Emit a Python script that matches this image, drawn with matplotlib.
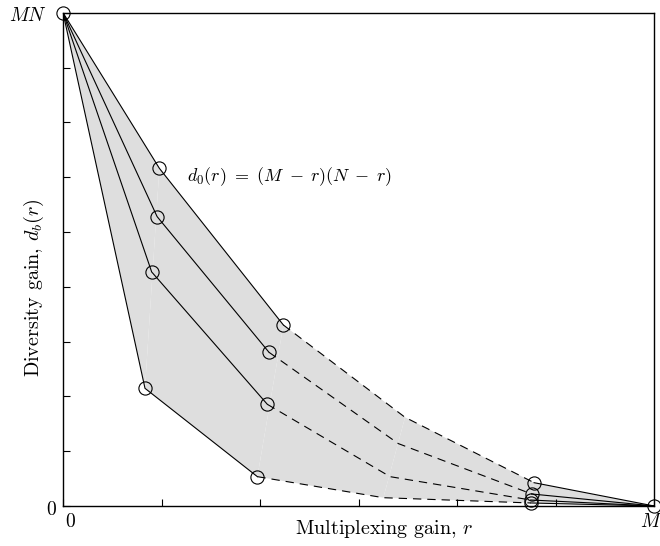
import numpy as np
import matplotlib
matplotlib.use("Agg")
import matplotlib.pyplot as plt
import matplotlib.transforms as mtransforms

plt.rcParams["font.family"] = ["cmr10"]
plt.rcParams["mathtext.fontset"] = "cm"
plt.rcParams["axes.unicode_minus"] = False
plt.rcParams["lines.scale_dashes"] = False

# breakpoints of the four diversity-multiplexing curves (x in units of M/6, y in units of MN/9)
curve_x = [
    [0.0, 0.978, 2.237, 3.472, 4.782, 6.0],
    [0.0, 0.955, 2.091, 3.404, 4.758, 6.0],
    [0.0, 0.900, 2.074, 3.320, 4.748, 6.0],
    [0.0, 0.832, 1.973, 3.252, 4.746, 6.0],
]
curve_y = [
    [9.0, 6.161, 3.302, 1.618, 0.425, 0.0],
    [9.0, 5.280, 2.804, 1.138, 0.219, 0.0],
    [9.0, 4.270, 1.855, 0.535, 0.109, 0.0],
    [9.0, 2.147, 0.535, 0.151, 0.055, 0.0],
]
xtick_labels = ["0", "", "", "", "", "", "$M$"]
ytick_labels = ["0", "", "", "", "", "", "", "", "", "$MN$"]
label_eq = r"$d_0(r)\ =\ (M\;-\;r)(N\;-\;r)$"

fig = plt.figure(figsize=(6.6, 5.46), dpi=100)
ax = fig.add_axes([0.0955, 0.0733, 0.8955, 0.9034])

# shaded region between the outer and inner curves, one patch per segment
top_x, top_y = np.array(curve_x[0]), np.array(curve_y[0])
bot_x, bot_y = np.array(curve_x[-1]), np.array(curve_y[-1])
for k in range(len(top_x) - 1):
    px = [top_x[k], top_x[k + 1], bot_x[k + 1], bot_x[k]]
    py = [top_y[k], top_y[k + 1], bot_y[k + 1], bot_y[k]]
    ax.fill(px, py, color="#dedede", lw=0, zorder=1)

mk = dict(ls="none", marker="o", ms=9.5, mfc="none", mec="black", mew=0.8,
          zorder=4, clip_on=False)
for cx, cy in zip(curve_x, curve_y):
    ax.plot(cx[:3], cy[:3], color="black", lw=0.8, zorder=3)
    ax.plot(cx[2:5], cy[2:5], color="black", lw=0.8, dashes=(6, 4.3), zorder=3)
    ax.plot(cx[4:], cy[4:], color="black", lw=0.8, zorder=3)
    ax.plot([cx[1], cx[2], cx[4]], [cy[1], cy[2], cy[4]], **mk)
# shared end points, drawn once
ax.plot([curve_x[0][0], curve_x[0][-1]], [curve_y[0][0], curve_y[0][-1]], **mk)

ax.text(1.26, 6.0, label_eq, fontsize=13, va="center", ha="left")

ax.set_xlim(0, 6)
ax.set_ylim(0, 9)
ax.set_xticks(range(7))
ax.set_xticklabels(xtick_labels)
ax.set_yticks(range(10))
ax.set_yticklabels(ytick_labels)
ax.tick_params(direction="in", length=5, width=0.8, labelsize=14)
ax.tick_params(axis="x", pad=5)
ax.tick_params(axis="y", pad=5)
for s in ax.spines.values():
    s.set_linewidth(1.0)

# nudge the end labels like in the original drawing
def nudge(lbl, dx, dy):
    lbl.set_transform(lbl.get_transform() + mtransforms.ScaledTranslation(dx / 100, dy / 100, fig.dpi_scale_trans))

nudge(ax.get_xticklabels()[0], 7, 0)
nudge(ax.get_xticklabels()[-1], -3, 0)
nudge(ax.get_yticklabels()[0], 0, -2)
nudge(ax.get_yticklabels()[-1], -9, -1)

ax.set_xlabel("Multiplexing gain, $r$", fontsize=14.5)
ax.xaxis.set_label_coords(0.543, -0.025)
ax.set_ylabel("Diversity gain, $d_b(r)$", fontsize=14.5)
ax.yaxis.set_label_coords(-0.028, 0.442)

fig.savefig("out.png", dpi=100)
